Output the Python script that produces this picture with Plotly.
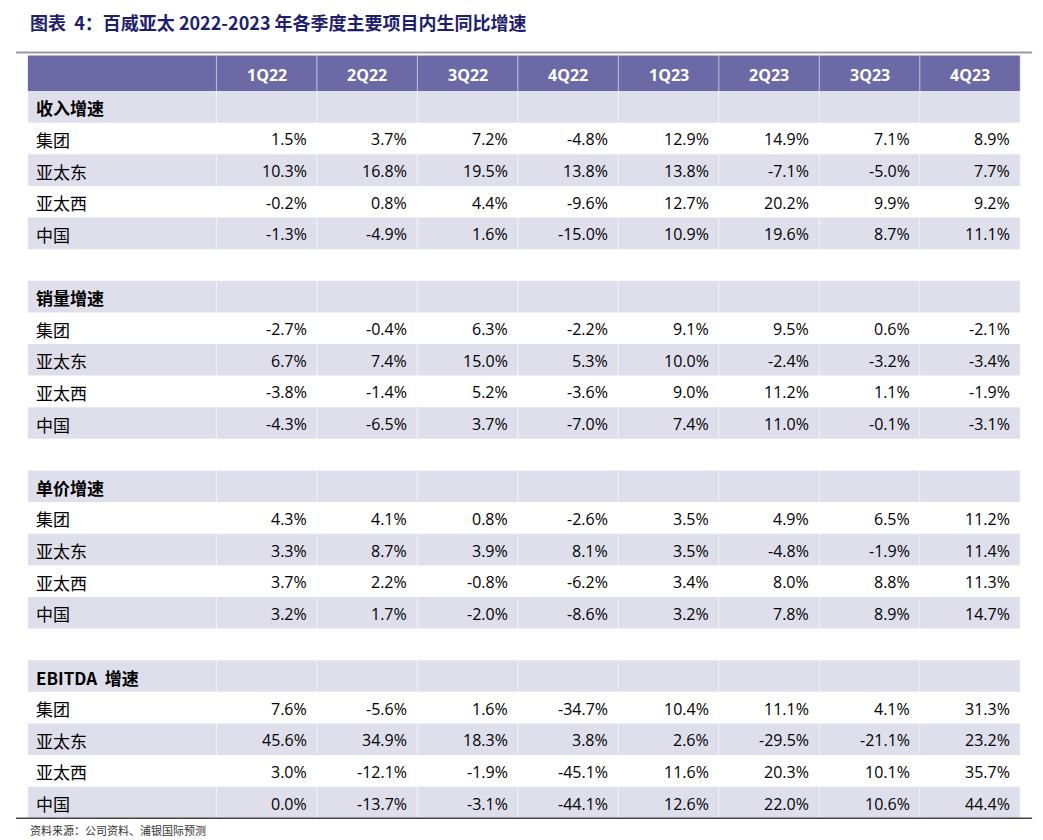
import plotly.graph_objects as go

quarters = ["1Q22", "2Q22", "3Q22", "4Q22", "1Q23", "2Q23", "3Q23", "4Q23"]
sections = ["收入增速", "销量增速", "单价增速", "EBITDA  增速"]
regions = ["集团", "亚太东", "亚太西", "中国"]

revenue = [
    [1.5, 3.7, 7.2, -4.8, 12.9, 14.9, 7.1, 8.9],
    [10.3, 16.8, 19.5, 13.8, 13.8, -7.1, -5.0, 7.7],
    [-0.2, 0.8, 4.4, -9.6, 12.7, 20.2, 9.9, 9.2],
    [-1.3, -4.9, 1.6, -15.0, 10.9, 19.6, 8.7, 11.1],
]
volume = [
    [-2.7, -0.4, 6.3, -2.2, 9.1, 9.5, 0.6, -2.1],
    [6.7, 7.4, 15.0, 5.3, 10.0, -2.4, -3.2, -3.4],
    [-3.8, -1.4, 5.2, -3.6, 9.0, 11.2, 1.1, -1.9],
    [-4.3, -6.5, 3.7, -7.0, 7.4, 11.0, -0.1, -3.1],
]
price = [
    [4.3, 4.1, 0.8, -2.6, 3.5, 4.9, 6.5, 11.2],
    [3.3, 8.7, 3.9, 8.1, 3.5, -4.8, -1.9, 11.4],
    [3.7, 2.2, -0.8, -6.2, 3.4, 8.0, 8.8, 11.3],
    [3.2, 1.7, -2.0, -8.6, 3.2, 7.8, 8.9, 14.7],
]
ebitda = [
    [7.6, -5.6, 1.6, -34.7, 10.4, 11.1, 4.1, 31.3],
    [45.6, 34.9, 18.3, 3.8, 2.6, -29.5, -21.1, 23.2],
    [3.0, -12.1, -1.9, -45.1, 11.6, 20.3, 10.1, 35.7],
    [0.0, -13.7, -3.1, -44.1, 12.6, 22.0, 10.6, 44.4],
]
all_data = [revenue, volume, price, ebitda]

W, H = 1043, 840
XR, YR = 1051, 850
left, label_w, col_w, right = 20, 190, 101.25, 1020
row_h = 32
header_top, header_h = 48, 36
HEADER = "#6b69a6"
SHADE = "#dfdfec"
CJK = "Noto Sans CJK SC"
NUM = "Open Sans"

shapes, ann = [], []

def rect(y0, y1, color):
    shapes.append(dict(type="rect", xref="x", yref="y", x0=left, x1=right, y0=y0, y1=y1,
                       fillcolor=color, line=dict(width=0), layer="below"))

rect(header_top, header_top + header_h, HEADER)
for i, q in enumerate(quarters):
    cx = left + label_w + col_w * (i + 0.5)
    ann.append(dict(x=cx, y=header_top + header_h / 2 + 2, text=f"<b>{q}</b>", showarrow=False,
                    font=dict(family=NUM, size=16, color="white"), xanchor="center", yanchor="middle"))

y = header_top + header_h
for s, sec in enumerate(sections):
    if s > 0:
        y += row_h
    rect(y, y + row_h, SHADE)
    ann.append(dict(x=left + 6, y=y + row_h / 2 + 1, text=f"<b>{sec}</b>", showarrow=False,
                    font=dict(family=CJK, size=17, color="black"), xanchor="left", yanchor="middle"))
    y += row_h
    for r, reg in enumerate(regions):
        if r % 2 == 1:
            rect(y, y + row_h, SHADE)
        ann.append(dict(x=left + 6, y=y + row_h / 2 + 1, text=reg, showarrow=False,
                        font=dict(family=CJK, size=17, color="black"), xanchor="left", yanchor="middle"))
        for i, v in enumerate(all_data[s][r]):
            rx = left + label_w + col_w * (i + 1) - 8
            ann.append(dict(x=rx, y=y + row_h / 2 + 1, text=f"{v:.1f}%", showarrow=False,
                            font=dict(family=NUM, size=16, color="black"), xanchor="right", yanchor="middle"))
        y += row_h

for i in range(9):
    x = left + label_w + col_w * i
    shapes.append(dict(type="line", xref="x", yref="y", x0=x, x1=x, y0=header_top, y1=y,
                       line=dict(color="rgba(255,255,255,0.6)", width=1), layer="below"))
shapes.append(dict(type="line", xref="x", yref="y", x0=8, x1=1032, y0=45, y1=45,
                   line=dict(color="#9a9aa8", width=2)))
shapes.append(dict(type="line", xref="x", yref="y", x0=8, x1=1032, y0=y, y1=y,
                   line=dict(color="#444444", width=1.5)))

ann.append(dict(x=20, y=14, text="<b>图表  4：百威亚太 2022-2023 年各季度主要项目内生同比增速</b>", showarrow=False,
                font=dict(family=CJK, size=18, color="#1f1f6e"), xanchor="left", yanchor="middle"))
ann.append(dict(x=20, y=y + 12, text="资料来源：公司资料、浦银国际预测", showarrow=False,
                font=dict(family=CJK, size=11, color="#333333"), xanchor="left", yanchor="middle"))

fig = go.Figure()
fig.update_layout(width=W, height=H, margin=dict(l=0, r=0, t=0, b=0),
                  paper_bgcolor="white", plot_bgcolor="white",
                  xaxis=dict(range=[0, XR], visible=False, fixedrange=True),
                  yaxis=dict(range=[YR, 0], visible=False, fixedrange=True),
                  shapes=shapes, annotations=ann, showlegend=False)
fig.write_html("out.html")
